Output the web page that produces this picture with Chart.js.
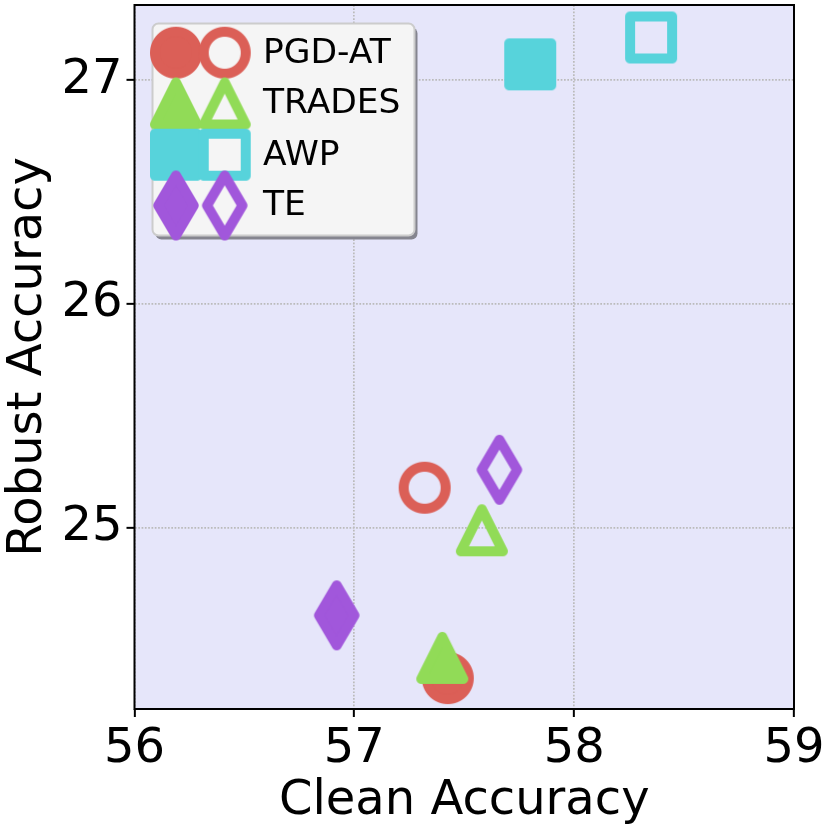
<!DOCTYPE html>
<html>
<head>
<meta charset="utf-8">
<script src="https://cdn.jsdelivr.net/npm/chart.js@4/dist/chart.umd.min.js"></script>
<style>
    html, body { margin: 0; padding: 0; background: #fff; }
    canvas { display: block; }
</style>
</head>
<body>
<canvas id="myChart" width="830" height="830"></canvas>
<script>
// method names, two points each: filled marker first, hollow marker second
const methods = ['PGD-AT', 'TRADES', 'AWP', 'TE'];
const cleanFilled = [57.425, 57.40, 57.80, 56.92];
const robustFilled = [24.33, 24.42, 27.07, 24.61];
const cleanHollow = [57.32, 57.58, 58.35, 57.66];
const robustHollow = [25.18, 24.99, 27.19, 25.26];

const xTicks = [56, 57, 58, 59];
const yTicks = [25, 26, 27];

const colors = ['#db5f57', '#91db57', '#57d3db', '#a157db'];
const shapes = ['circle', 'triangle', 'square', 'diamond'];

const FONT = '"DejaVu Sans"';
const MARK_W = 56;
const MARK_H = 76;
const MARK_SCALE = 4; // markers are drawn big and shown small, keeps the edges clean

// chart.js has no thin diamond, and its own shapes have mitred corners,
// so the markers are small images used as pointStyle
function makeMarker(shape, filled, color) {
    const c = document.createElement('canvas');
    c.width = MARK_W * MARK_SCALE;
    c.height = MARK_H * MARK_SCALE;
    const ctx = c.getContext('2d');
    ctx.scale(MARK_SCALE, MARK_SCALE);
    ctx.translate(MARK_W / 2, MARK_H / 2);
    ctx.beginPath();
    if (shape === 'circle') {
        ctx.arc(0, 0, 21, 0, Math.PI * 2);
    } else if (shape === 'triangle') {
        ctx.moveTo(0, -21);
        ctx.lineTo(21, 21);
        ctx.lineTo(-21, 21);
    } else if (shape === 'square') {
        ctx.rect(-21, -21, 42, 42);
    } else {
        ctx.moveTo(0, -30);
        ctx.lineTo(17.7, 0);
        ctx.lineTo(0, 30);
        ctx.lineTo(-17.7, 0);
    }
    ctx.closePath();
    ctx.lineJoin = 'round';
    ctx.lineWidth = 10;
    ctx.strokeStyle = color;
    ctx.fillStyle = color;
    if (filled) ctx.fill();
    ctx.stroke();

    const img = new Image(MARK_W, MARK_H);
    img.src = c.toDataURL();
    return img;
}

const filledMarkers = shapes.map((s, i) => makeMarker(s, true, colors[i]));
const hollowMarkers = shapes.map((s, i) => makeMarker(s, false, colors[i]));

const datasets = [];
methods.forEach((name, i) => {
    datasets.push({
        label: name,
        data: [{ x: cleanFilled[i], y: robustFilled[i] }],
        pointStyle: filledMarkers[i],
        order: 8 - i
    });
    datasets.push({
        label: name + ' hollow',
        data: [{ x: cleanHollow[i], y: robustHollow[i] }],
        pointStyle: hollowMarkers[i],
        order: 4 - i
    });
});

// lavender plot background and the black frame
const framePlugin = {
    id: 'frame',
    beforeDraw(chart) {
        const a = chart.chartArea;
        chart.ctx.fillStyle = '#e6e6fa';
        chart.ctx.fillRect(a.left, a.top, a.width, a.height);
    },
    afterDatasetsDraw(chart) {
        const a = chart.chartArea;
        chart.ctx.strokeStyle = '#000';
        chart.ctx.lineWidth = 2;
        chart.ctx.strokeRect(a.left, a.top, a.width, a.height);
    }
};

// fancy legend with a shadow, two markers on each row
const legendPlugin = {
    id: 'twoMarkerLegend',
    afterDraw(chart) {
        const ctx = chart.ctx;
        const rows = [52.7, 103.5, 154.7, 205.5];
        ctx.save();
        ctx.beginPath();
        ctx.roundRect(155.5, 27.5, 262, 212, 6);
        ctx.fillStyle = '#85858f';
        ctx.fill();
        ctx.beginPath();
        ctx.roundRect(152.5, 23.5, 262, 212, 6);
        ctx.fillStyle = '#f5f5f5';
        ctx.fill();
        ctx.lineWidth = 2;
        ctx.strokeStyle = '#cccccc';
        ctx.stroke();
        ctx.font = '34.5px ' + FONT;
        ctx.fillStyle = '#000';
        ctx.textBaseline = 'middle';
        methods.forEach((name, i) => {
            ctx.drawImage(filledMarkers[i], 176 - MARK_W / 2, rows[i] - MARK_H / 2, MARK_W, MARK_H);
            ctx.drawImage(hollowMarkers[i], 224.7 - MARK_W / 2, rows[i] - MARK_H / 2, MARK_W, MARK_H);
            ctx.fillText(name, 263, rows[i] + 1);
        });
        ctx.restore();
    }
};

function GraphIt() {
    const canvas = document.getElementById('myChart');
    const myChart = new Chart(canvas, {
        type: 'scatter',
        data: { datasets: datasets },
        options: {
            responsive: false,
            animation: false,
            layout: {
                autoPadding: false,
                padding: { top: 5, right: 36, left: 0, bottom: 0 }
            },
            plugins: {
                legend: { display: false },
                tooltip: { enabled: false }
            },
            scales: {
                x: {
                    min: 56,
                    max: 59,
                    afterBuildTicks: scale => { scale.ticks = xTicks.map(v => ({ value: v })); },
                    afterFit: scale => {
                        scale.height = 121;
                        scale.paddingLeft = 0;
                        scale.paddingRight = 0;
                    },
                    title: {
                        display: true,
                        text: 'Clean Accuracy',
                        color: '#000',
                        font: { family: FONT, size: 48 },
                        padding: { top: 0, bottom: 0 }
                    },
                    ticks: {
                        color: '#000',
                        font: { family: FONT, size: 48 },
                        maxRotation: 0,
                        autoSkip: false,
                        padding: 4
                    },
                    grid: {
                        color: '#bbbbbb',
                        lineWidth: 1.7,
                        tickColor: '#000',
                        tickWidth: 2,
                        tickLength: 8,
                        tickBorderDash: []
                    },
                    border: { display: false, dash: [1.7, 1.6] }
                },
                y: {
                    min: 24.192,
                    max: 27.335,
                    afterBuildTicks: scale => { scale.ticks = yTicks.map(v => ({ value: v })); },
                    afterFit: scale => {
                        scale.width = 134.5;
                        scale.paddingTop = 0;
                        scale.paddingBottom = 0;
                    },
                    title: {
                        display: true,
                        text: 'Robust Accuracy',
                        color: '#000',
                        font: { family: FONT, size: 48 },
                        padding: { top: 0, bottom: 0 }
                    },
                    ticks: {
                        color: '#000',
                        font: { family: FONT, size: 48 },
                        autoSkip: false,
                        padding: 4
                    },
                    grid: {
                        color: '#bbbbbb',
                        lineWidth: 1.7,
                        tickColor: '#000',
                        tickWidth: 2,
                        tickLength: 8,
                        tickBorderDash: []
                    },
                    border: { display: false, dash: [1.7, 1.6] }
                }
            }
        },
        plugins: [framePlugin, legendPlugin]
    });
}

// the marker images come from data urls, wait for them before drawing
Promise.all(filledMarkers.concat(hollowMarkers).map(img => img.decode())).then(GraphIt);
</script>
</body>
</html>
